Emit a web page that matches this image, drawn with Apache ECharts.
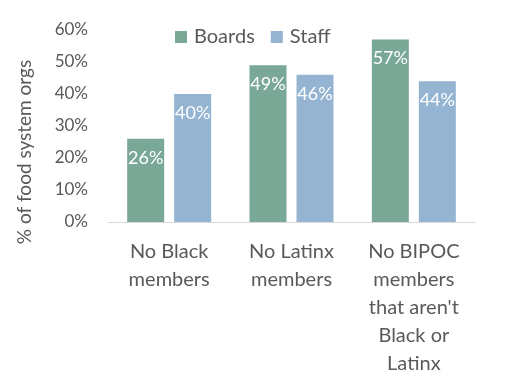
<!DOCTYPE html>
<html><head><meta charset="utf-8">
<script src="https://cdn.jsdelivr.net/npm/echarts@6/dist/echarts.min.js"></script>
<style>html,body{margin:0;padding:0;background:#fff}#c{width:508px;height:388px}</style>
</head><body><div id="c"></div>
<script>
var categories = ["No Black\nmembers", "No Latinx\nmembers", "No BIPOC\nmembers\nthat aren't\nBlack or\nLatinx"];
var boards = [26, 49, 57];
var staff = [40, 46, 44];
var yTicks = [0, 10, 20, 30, 40, 50, 60];
var yName = "% of food system orgs";
var FONT = "Lato";
var chart = echarts.init(document.getElementById('c'), null, {renderer:'canvas'});
var lbl = {show:true, position:'insideTop', distance:10, color:'#fff', fontSize:18, fontFamily:FONT, formatter:'{c}%'};
chart.setOption({
  animation:false,
  textStyle:{fontFamily:FONT},
  grid:{left:108, right:33, top:30, bottom:166, containLabel:false},
  legend:{left:170, top:22, itemWidth:12, itemHeight:12, itemGap:16, icon:'rect',
    textStyle:{fontSize:20, color:'#595959', fontFamily:FONT, padding:[0,0,0,2]},
    data:['Boards','Staff']},
  xAxis:{type:'category', data:categories,
    axisLine:{lineStyle:{color:'#d9d9d9', width:1}}, axisTick:{show:false},
    axisLabel:{fontSize:20, color:'#595959', lineHeight:28, margin:16, fontFamily:FONT, interval:0}},
  yAxis:{type:'value', min:yTicks[0], max:yTicks[yTicks.length-1], interval:10,
    axisLine:{show:false}, axisTick:{show:false}, splitLine:{show:false},
    axisLabel:{formatter:'{value}%', fontSize:17, color:'#595959', margin:20, fontFamily:FONT}},
  graphic:[{type:'text', x:25, y:152, rotation:Math.PI/2,
    style:{text:yName, fontSize:19, fill:'#595959', fontFamily:FONT, align:'center', verticalAlign:'middle'}}],
  series:[
    {name:'Boards', type:'bar', data:boards, barWidth:37, barGap:'27%', itemStyle:{color:'#79a897'}, label:lbl},
    {name:'Staff', type:'bar', data:staff, barWidth:37, itemStyle:{color:'#94b4d2'}, label:lbl}
  ]
});
</script></body></html>
